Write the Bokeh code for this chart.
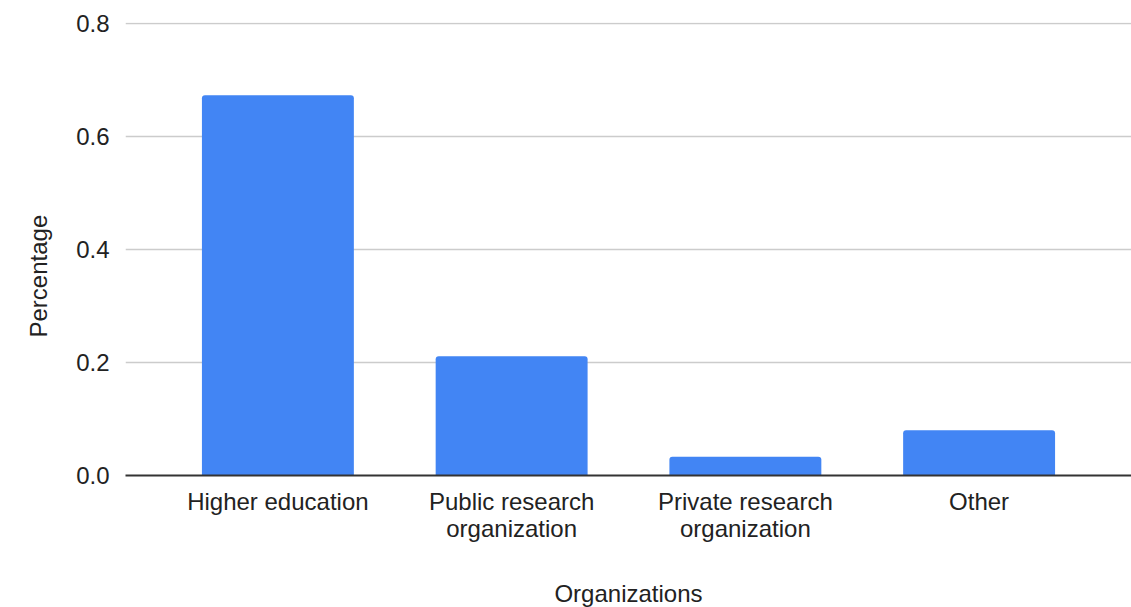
from bokeh.plotting import figure
from bokeh.models import ColumnDataSource, FactorRange, Range1d, FixedTicker, PrintfTickFormatter, Title
from bokeh.embed import file_html
from bokeh.resources import INLINE

categories = ["Higher education", "Public research\norganization", "Private research\norganization", "Other"]
values = [0.673, 0.211, 0.033, 0.080]
y_ticks = [0.0, 0.2, 0.4, 0.6, 0.8]

FONT = "Arial"
TXT = "#222222"
FS = "24px"

src = ColumnDataSource(dict(cat=categories, val=values))

p = figure(width=1131, height=607, output_backend="svg", toolbar_location=None,
           x_range=FactorRange(*categories, range_padding=0.076),
           y_range=Range1d(0, 0.8016))
p.frame_width = 1006
p.frame_height = 453
p.min_border_left = 125
p.min_border_right = 0
p.min_border_top = 22
p.min_border_bottom = 132
p.outline_line_color = None
p.background_fill_color = "white"
p.border_fill_color = "white"

p.vbar(x="cat", top="val", width=0.65, source=src, fill_color="#4285F4",
       line_color=None, border_radius=(3, 3, 0, 0))

p.xgrid.grid_line_color = None
p.ygrid.grid_line_color = "#cccccc"
p.ygrid.grid_line_width = 1.5
p.ygrid.ticker = FixedTicker(ticks=y_ticks)

ya = p.yaxis[0]
ya.ticker = FixedTicker(ticks=y_ticks)
ya.formatter = PrintfTickFormatter(format="%.1f")
ya.axis_line_color = None
ya.major_tick_line_color = None
ya.minor_tick_line_color = None
ya.major_label_standoff = 10
ya.major_label_text_font = FONT
ya.major_label_text_font_size = FS
ya.major_label_text_color = TXT

p.add_layout(Title(text="Percentage", align="left", offset=138, standoff=40,
                   vertical_align="top",
                   text_font=FONT, text_font_size=FS, text_font_style="normal",
                   text_color=TXT), "left")

xa = p.xaxis[0]
xa.axis_line_color = "#333333"
xa.axis_line_width = 2
xa.major_tick_line_color = None
xa.minor_tick_line_color = None
xa.major_label_standoff = 6
xa.major_label_text_font = FONT
xa.major_label_text_font_size = FS
xa.major_label_text_color = TXT
xa.major_label_text_line_height = 1.0
xa.axis_label = "Organizations"
xa.axis_label_text_font = FONT
xa.axis_label_text_font_size = FS
xa.axis_label_text_font_style = "normal"
xa.axis_label_text_color = TXT
xa.axis_label_standoff = 35

open("out.html", "w").write(file_html(p, INLINE))
